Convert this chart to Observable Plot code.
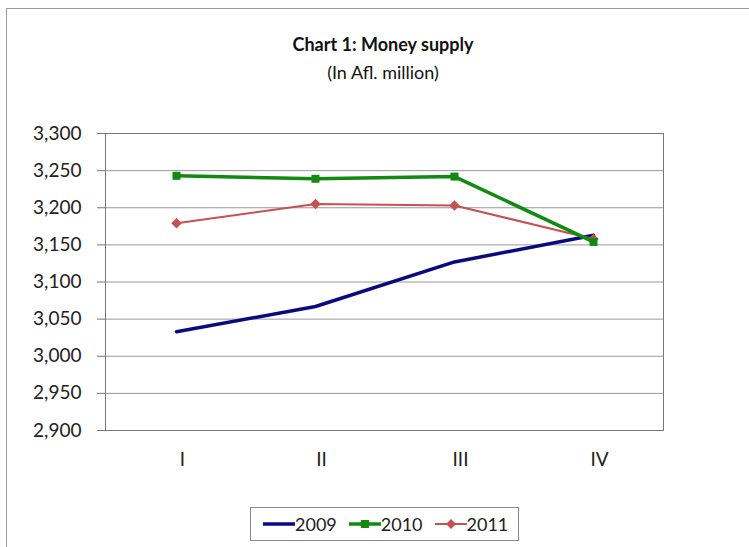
<!DOCTYPE html>
<html><head><meta charset="utf-8">
<script src="https://cdn.jsdelivr.net/npm/d3@7"></script>
<script src="https://cdn.jsdelivr.net/npm/@observablehq/plot@0.6"></script>
<style>
body{margin:0;background:#fff;font-family:Lato,"Open Sans",sans-serif;}
#wrap{position:relative;width:749px;height:547px;overflow:hidden;}
#border{position:absolute;left:6px;top:8px;width:760px;height:560px;border:1px solid #999;}
.t{position:absolute;left:0;width:766px;text-align:center;color:#111;font-size:18px;}
#chart{position:absolute;left:0;top:0;}
#legend{position:absolute;left:250px;top:507px;width:269px;height:34px;border:1px solid #888;display:flex;align-items:center;gap:12px;padding-left:12px;box-sizing:border-box;font-size:18px;color:#222;}
#legend span{display:flex;align-items:center;}
</style></head>
<body><div id="wrap"><div id="border"></div>
<div class="t" style="top:33px;font-weight:bold;">Chart 1: Money supply</div>
<div class="t" style="top:61px;">(In Afl. million)</div>
<div id="chart"></div>
<div id="legend"></div>
</div>
<script>
const quarters = ["I","II","III","IV"];
const v2009 = [3033, 3067, 3127, 3163];
const v2010 = [3243, 3239, 3242, 3154];
const v2011 = [3179, 3205, 3203, 3158];
const yTicks = [2900,2950,3000,3050,3100,3150,3200,3250,3300];
const years = ["2009","2010","2011"];
const colors = ["#0a0a80","#108a10","#c85050"];

const rows = [];
[v2009, v2010, v2011].forEach((vals, i) => vals.forEach((v, j) => rows.push({year: years[i], q: quarters[j], v})));
const s = y => rows.filter(d => d.year === y);

const plot = Plot.plot({
  width: 749, height: 470,
  marginTop: 133, marginBottom: 40, marginLeft: 105, marginRight: 86,
  style: {fontFamily: "Lato, 'Open Sans', sans-serif", fontSize: "19px", color: "#222", background: "transparent"},
  x: {type: "point", domain: quarters, padding: 0.5, label: null},
  y: {domain: [2900, 3300], ticks: yTicks, label: null},
  marks: [
    Plot.gridY(yTicks, {stroke: "#999", strokeOpacity: 1}),
    Plot.frame({stroke: "#777"}),
    Plot.axisY(yTicks, {tickSize: 8, tickPadding: 16, tickFormat: d3.format(","), stroke: "#777", label: null}),
    Plot.axisX({tickSize: 0, tickPadding: 22, dx: 6, label: null}),
    Plot.line(s("2009"), {x: "q", y: "v", stroke: colors[0], strokeWidth: 3.5}),
    Plot.line(s("2011"), {x: "q", y: "v", stroke: colors[2], strokeWidth: 2}),
    Plot.dot(s("2011"), {x: "q", y: "v", symbol: "square", rotate: 45, fill: colors[2], r: 4.2}),
    Plot.line(s("2010"), {x: "q", y: "v", stroke: colors[1], strokeWidth: 3.5}),
    Plot.dot(s("2010"), {x: "q", y: "v", symbol: "square", fill: colors[1], r: 4.5})
  ]
});
document.getElementById("chart").appendChild(plot);

const sym = ["", '<rect x="12" y="5" width="8" height="8" fill="COL"/>', '<path d="M16 4 L21 9 L16 14 L11 9 Z" fill="COL"/>'];
const lw = [3.5, 3.5, 2];
document.getElementById("legend").innerHTML = years.map((y, i) =>
  `<span><svg width="32" height="18"><line x1="0" x2="32" y1="9" y2="9" stroke="${colors[i]}" stroke-width="${lw[i]}"/>${sym[i].replace("COL", colors[i])}</svg>${y}</span>`).join("");
</script></body></html>
